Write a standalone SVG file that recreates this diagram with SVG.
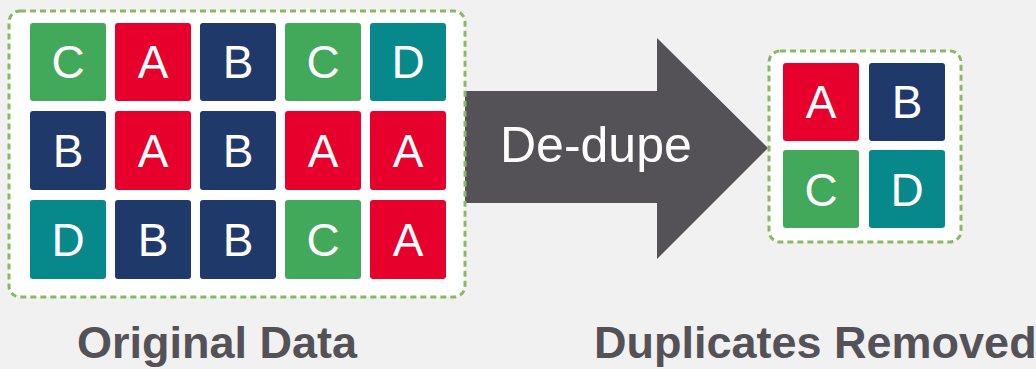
<svg xmlns="http://www.w3.org/2000/svg" width="1036" height="369" viewBox="0 0 1036 369">
<style>
.box{fill:#ffffff;stroke:#8bb863;stroke-width:3;stroke-dasharray:6 4}
.g{fill:#42a95a}.r{fill:#e8002c}.n{fill:#20396b}.d{fill:#07888a}
.l{font-family:"Liberation Sans",Arial,sans-serif;font-size:46px;fill:#ffffff;text-anchor:middle}
.cap{font-family:"Liberation Sans",Arial,sans-serif;font-size:45px;font-weight:bold;fill:#545257}
</style>
<rect width="1036" height="369" fill="#f1f1f1"/>
<g id="connectors">
<polygon points="465,91 657,91 657,38 768,148 657,259 657,203 465,203" fill="#545257"/>
<text x="500" y="162" font-family="Liberation Sans,Arial,sans-serif" font-size="50" fill="#ffffff">De-dupe</text>
</g>
<g id="original">
<rect class="box" x="9" y="11" width="456" height="286" rx="11"/>
<g id="o11"><rect class="g" x="30" y="23" width="76" height="78" rx="3"/><text class="l" x="68" y="78">C</text></g>
<g id="o12"><rect class="r" x="115" y="23" width="76" height="78" rx="3"/><text class="l" x="153" y="78">A</text></g>
<g id="o13"><rect class="n" x="200" y="23" width="76" height="78" rx="3"/><text class="l" x="238" y="78">B</text></g>
<g id="o14"><rect class="g" x="285" y="23" width="76" height="78" rx="3"/><text class="l" x="323" y="78">C</text></g>
<g id="o15"><rect class="d" x="370" y="23" width="76" height="78" rx="3"/><text class="l" x="408" y="78">D</text></g>
<g id="o21"><rect class="n" x="30" y="111" width="76" height="79" rx="3"/><text class="l" x="68" y="167">B</text></g>
<g id="o22"><rect class="r" x="115" y="111" width="76" height="79" rx="3"/><text class="l" x="153" y="167">A</text></g>
<g id="o23"><rect class="n" x="200" y="111" width="76" height="79" rx="3"/><text class="l" x="238" y="167">B</text></g>
<g id="o24"><rect class="r" x="285" y="111" width="76" height="79" rx="3"/><text class="l" x="323" y="167">A</text></g>
<g id="o25"><rect class="r" x="370" y="111" width="76" height="79" rx="3"/><text class="l" x="408" y="167">A</text></g>
<g id="o31"><rect class="d" x="30" y="200" width="76" height="79" rx="3"/><text class="l" x="68" y="256">D</text></g>
<g id="o32"><rect class="n" x="115" y="200" width="76" height="79" rx="3"/><text class="l" x="153" y="256">B</text></g>
<g id="o33"><rect class="n" x="200" y="200" width="76" height="79" rx="3"/><text class="l" x="238" y="256">B</text></g>
<g id="o34"><rect class="g" x="285" y="200" width="76" height="79" rx="3"/><text class="l" x="323" y="256">C</text></g>
<g id="o35"><rect class="r" x="370" y="200" width="76" height="79" rx="3"/><text class="l" x="408" y="256">A</text></g>
</g>
<g id="deduped">
<rect class="box" x="769" y="51" width="192" height="191" rx="11"/>
<g id="dA"><rect class="r" x="783" y="63" width="76" height="78" rx="3"/><text class="l" x="821" y="118">A</text></g>
<g id="dB"><rect class="n" x="869" y="63" width="76" height="78" rx="3"/><text class="l" x="907" y="118">B</text></g>
<g id="dC"><rect class="g" x="783" y="150" width="76" height="78" rx="3"/><text class="l" x="821" y="206">C</text></g>
<g id="dD"><rect class="d" x="869" y="150" width="76" height="78" rx="3"/><text class="l" x="907" y="206">D</text></g>
</g>
<g id="labels">
<text class="cap" x="77" y="358">Original Data</text>
<text class="cap" x="594" y="358">Duplicates Removed</text>
</g>
</svg>
